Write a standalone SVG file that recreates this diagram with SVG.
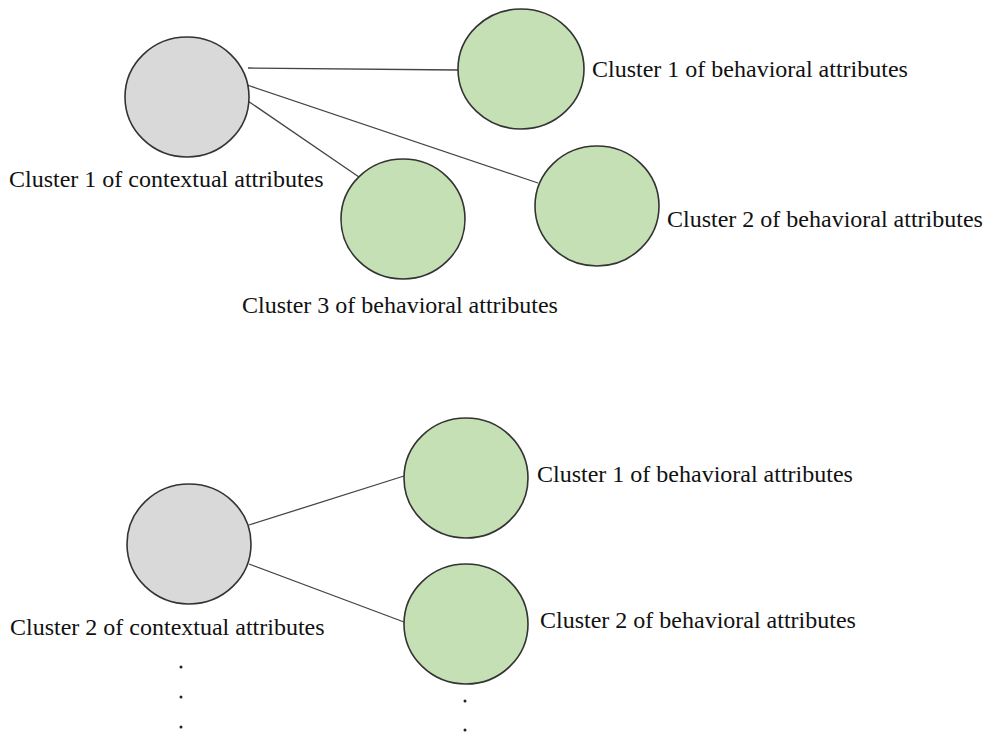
<svg xmlns="http://www.w3.org/2000/svg" width="985" height="733" viewBox="0 0 985 733">
<style>
.ctx{fill:#d9d9d9;stroke:#333;stroke-width:1.6}
.beh{fill:#c5e0b4;stroke:#333;stroke-width:1.6}
.lbl{font-family:"Liberation Serif","Times New Roman",serif;font-size:24px;fill:#111}
.edge{stroke:#444;stroke-width:1.3;fill:none}
.dot{fill:#222}
</style>
<rect width="985" height="733" fill="#fff"/>
<g id="connectors">
<line class="edge" x1="248" y1="68" x2="458" y2="70"/>
<line class="edge" x1="247" y1="85" x2="538" y2="183"/>
<line class="edge" x1="245" y1="99" x2="359" y2="177"/>
<line class="edge" x1="249" y1="525" x2="404" y2="476"/>
<line class="edge" x1="249" y1="564" x2="404" y2="622"/>
</g>
<g id="ctx1"><ellipse class="ctx" cx="187" cy="97" rx="62" ry="60"/><text class="lbl" x="9" y="187">Cluster 1 of contextual attributes</text></g>
<g id="beh1a"><ellipse class="beh" cx="521" cy="69" rx="63" ry="60"/><text class="lbl" x="592" y="77">Cluster 1 of behavioral attributes</text></g>
<g id="beh2a"><ellipse class="beh" cx="597" cy="206" rx="62" ry="60"/><text class="lbl" x="667" y="227">Cluster 2 of behavioral attributes</text></g>
<g id="beh3a"><ellipse class="beh" cx="403" cy="219" rx="62" ry="60"/><text class="lbl" x="242" y="313">Cluster 3 of behavioral attributes</text></g>
<g id="ctx2"><ellipse class="ctx" cx="189" cy="544" rx="62" ry="60"/><text class="lbl" x="10" y="635">Cluster 2 of contextual attributes</text></g>
<g id="beh1b"><ellipse class="beh" cx="466" cy="478" rx="62" ry="60"/><text class="lbl" x="537" y="482">Cluster 1 of behavioral attributes</text></g>
<g id="beh2b"><ellipse class="beh" cx="466" cy="624" rx="62" ry="60"/><text class="lbl" x="540" y="628">Cluster 2 of behavioral attributes</text></g>
<g id="dots">
<circle class="dot" cx="181" cy="667" r="1.5"/>
<circle class="dot" cx="181" cy="697" r="1.5"/>
<circle class="dot" cx="181" cy="727" r="1.5"/>
<circle class="dot" cx="465" cy="701" r="1.5"/>
<circle class="dot" cx="465" cy="730" r="1.5"/>
</g>
</svg>
